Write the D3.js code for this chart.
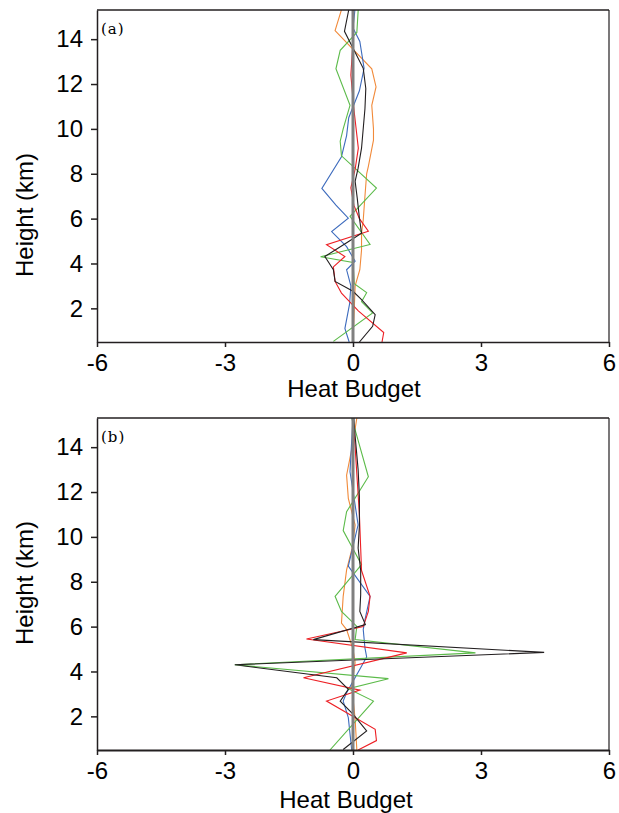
<!DOCTYPE html>
<html><head><meta charset="utf-8">
<script src="https://cdn.jsdelivr.net/npm/d3@7"></script>
<style>html,body{margin:0;padding:0;background:#fff;} svg{display:block;}</style>
</head><body>
<svg id="chart" width="619" height="813"></svg>
<script>
// ---------- data: [heat budget value, height km] ----------
const xTicks = [-6, -3, 0, 3, 6];
const yTicks = [2, 4, 6, 8, 10, 12, 14];
const panelLabels = ["(a)", "(b)"];
const xTitle = "Heat Budget";
const yTitle = "Height (km)";

// panel (a)
const aOrange = [[-0.24,15.5],[-0.42,14.38],[0.44,12.68],[0.54,11.87],[0.44,11.05],[0.48,10.0],[0.48,9.5],[0.36,8.33],[0.32,8.0],[0.28,7.0],[0.24,5.94],[0.2,5.35],[0.2,4.6],[0.16,3.72],[0.05,3.0],[0.0,0.5]];
const aBlue = [[0.05,15.4],[0.0,14.5],[0.16,13.9],[0.26,12.7],[0.15,11.7],[-0.1,10.5],[-0.15,9.7],[-0.27,8.76],[-0.73,7.35],[-0.4,6.6],[-0.11,6.02],[-0.5,5.42],[-0.15,4.75],[0.05,4.1],[-0.15,3.72],[-0.05,3.0],[-0.08,2.2],[-0.19,1.1],[-0.09,0.5]];
const aGreen = [[0.125,15.4],[0.09,14.3],[-0.3,13.5],[-0.4,12.68],[-0.07,11.05],[-0.23,10.0],[-0.3,9.45],[-0.27,8.8],[0.55,7.36],[-0.07,6.1],[0.4,4.85],[-0.76,4.3],[0.0,4.05],[0.03,3.1],[0.32,2.7],[0.2,2.3],[0.46,1.8],[-0.46,0.53]];
const aRed = [[0.0,15.4],[0.0,13.9],[-0.05,12.4],[0.02,10.9],[0.125,9.14],[0.05,8.2],[-0.05,7.37],[0.02,6.6],[0.15,6.0],[0.36,5.44],[-0.62,4.84],[-0.19,4.31],[-0.46,3.85],[-0.42,3.2],[-0.27,2.68],[0.125,1.89],[0.72,0.92],[0.68,0.5]];
const aBlack = [[-0.09,15.4],[-0.2,14.35],[0.24,12.7],[0.3,11.8],[0.28,10.9],[0.2,9.14],[0.12,8.25],[0.05,7.66],[0.1,6.9],[0.15,6.03],[0.2,5.35],[-0.13,4.95],[-0.66,4.31],[-0.46,3.72],[-0.42,3.2],[0.0,2.76],[0.2,2.39],[0.52,1.72],[0.46,1.2],[0.15,0.5]];

// panel (b)
const bOrange = [[0.09,15.3],[0.0,14.2],[-0.15,12.75],[-0.11,11.72],[0.05,10.53],[-0.02,9.5],[-0.15,8.53],[-0.23,7.35],[-0.27,6.16],[-0.15,5.87],[0.0,5.0],[0.05,4.4],[-0.03,3.36],[0.05,1.88],[0.09,0.5]];
const bBlue = [[0.0,15.3],[-0.03,14.3],[-0.07,12.9],[0.02,11.8],[0.12,10.53],[0.09,10.3],[-0.11,8.7],[0.4,7.35],[0.28,6.3],[0.24,5.87],[0.28,5.05],[0.32,4.65],[0.16,4.1],[-0.15,3.05],[-0.23,2.68],[-0.11,1.94],[-0.03,0.5]];
const bGreen = [[-0.03,15.3],[0.09,14.5],[0.36,12.68],[-0.15,11.12],[-0.23,10.28],[0.2,8.76],[-0.42,7.35],[-0.27,6.68],[0.09,6.01],[0.05,5.42],[2.87,4.83],[-2.77,4.3],[0.83,3.68],[-0.11,3.23],[0.48,2.68],[-0.54,0.5]];
const bRed = [[0.0,15.3],[0.05,14.0],[0.1,12.5],[0.15,11.0],[0.18,9.5],[0.2,8.5],[0.4,7.35],[0.36,6.68],[0.24,6.0],[-1.09,5.45],[1.26,4.83],[-1.16,3.72],[0.16,3.17],[-0.62,2.68],[0.52,1.42],[0.55,0.92],[0.12,0.5]];
const bBlack = [[0.02,15.3],[0.05,14.5],[0.12,13.0],[0.15,11.8],[0.15,10.5],[0.12,9.5],[0.18,8.5],[0.18,7.42],[0.16,6.68],[0.29,6.09],[-0.93,5.42],[4.48,4.85],[-2.77,4.3],[-0.38,3.72],[-0.11,3.2],[-0.3,2.68],[0.0,2.1],[0.32,1.35],[-0.23,0.52]];

const seriesColors = {orange:"#f18a3a", blue:"#3d6bbd", green:"#5cbb4a", red:"#ed1f24", black:"#231f20"};
const panels = [
  {label: panelLabels[0], top: 10, series: [["orange",aOrange],["blue",aBlue],["green",aGreen],["red",aRed],["black",aBlack]], titleX: 354, titleY: 397, yTitleY: 215},
  {label: panelLabels[1], top: 418, series: [["orange",bOrange],["blue",bBlue],["green",bGreen],["red",bRed],["black",bBlack]], titleX: 346, titleY: 808, yTitleY: 583}
];

const svg = d3.select("#chart");
const left = 97, right = 609, ph = 332;
const font = "'Liberation Sans', Arial, Helvetica, sans-serif";
const axisColor = "#231f20";

panels.forEach((p, i) => {
  const top = p.top, bottom = top + ph;
  const x = d3.scaleLinear().domain([-6, 6]).range([left, right]);
  const y = d3.scaleLinear().domain([0.5, 15.3]).range([bottom, top]);
  const g = svg.append("g");

  const clipId = "clip" + i;
  g.append("clipPath").attr("id", clipId).append("rect")
    .attr("x", left).attr("y", top).attr("width", right - left).attr("height", ph);

  const plot = g.append("g").attr("clip-path", `url(#${clipId})`);
  const line = d3.line().x(d => x(d[0])).y(d => y(d[1]));
  p.series.forEach(([c, data]) => {
    plot.append("path").datum(data).attr("d", line)
      .attr("fill", "none").attr("stroke", seriesColors[c]).attr("stroke-width", 1.1)
      .attr("stroke-linejoin", "miter");
  });
  // zero line
  plot.append("line").attr("x1", x(0)).attr("x2", x(0)).attr("y1", y(0.5)).attr("y2", y(15.3))
    .attr("stroke", "#808080").attr("stroke-width", 3);

  // frame top/right
  g.append("line").attr("x1", left).attr("x2", right).attr("y1", top).attr("y2", top)
    .attr("stroke", axisColor).attr("stroke-width", 1.6);
  g.append("line").attr("x1", right).attr("x2", right).attr("y1", top).attr("y2", bottom)
    .attr("stroke", axisColor).attr("stroke-width", 1.2);

  const xa = g.append("g").attr("transform", `translate(0,${bottom})`)
    .call(d3.axisBottom(x).tickValues(xTicks).tickFormat(d => String(d)).tickSize(5).tickPadding(7).tickSizeOuter(0));
  const ya = g.append("g").attr("transform", `translate(${left},0)`)
    .call(d3.axisLeft(y).tickValues(yTicks).tickFormat(d => String(d)).tickSize(6).tickPadding(8).tickSizeOuter(0));
  [xa, ya].forEach(a => {
    a.select(".domain").attr("stroke", axisColor).attr("stroke-width", i === 1 && a === xa ? 2 : 1.5);
    a.selectAll(".tick line").attr("stroke", axisColor).attr("stroke-width", 1.5);
    a.selectAll(".tick text").attr("fill", "#000").style("font-family", font).style("font-size", "24px");
  });

  g.append("text").attr("x", p.titleX).attr("y", p.titleY).attr("text-anchor", "middle")
    .style("font-family", font).style("font-size", "24px").attr("fill", "#000").text(xTitle);
  g.append("text").attr("transform", `translate(33,${p.yTitleY}) rotate(-90)`).attr("text-anchor", "middle")
    .style("font-family", font).style("font-size", "24px").attr("fill", "#000").text(yTitle);

  g.append("text").attr("x", 101).attr("y", top + 24)
    .style("font-family", "'DejaVu Serif', 'Liberation Serif', serif").style("font-size", "15px")
    .style("letter-spacing", "1px").attr("fill", "#000").text(p.label);
});
</script>
</body></html>
